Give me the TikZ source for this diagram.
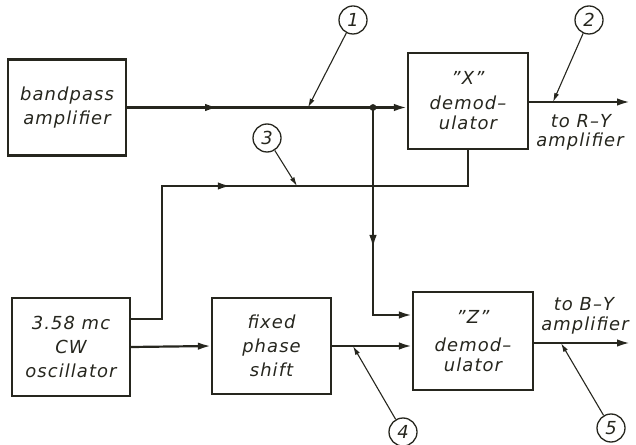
\documentclass[tikz,border=0pt]{standalone}
\usepackage{fontspec}
\setsansfont{DejaVu Sans}[LetterSpace=6]
\usetikzlibrary{arrows.meta,decorations.markings}
\newcommand\dgfont{\sffamily\itshape\fontsize{18}{24}\selectfont}
\definecolor{ink}{RGB}{38,38,30}
\begin{document}
\begin{tikzpicture}[x=1bp,y=-1bp,
  blk/.style={draw=ink, text=ink, line width=2.2bp, minimum width=118bp, minimum height=96bp, align=center, inner sep=0pt, font=\dgfont},
  wire/.style={draw=ink, line width=2.2bp},
  tip/.style={-{Latex[length=13bp,width=7.5bp]}},
  midarrow/.style={postaction={decorate}, decoration={markings, mark=at position #1 with {\arrow[ink]{Latex[length=13bp,width=7.5bp]}}}},
  num/.style={draw=ink, text=ink, circle, minimum size=28bp, inner sep=0pt, line width=1.3bp, font=\dgfont},
  leader/.style={draw=ink, line width=1.1bp, -{Latex[length=9bp,width=5bp]}},
  lbl/.style={text=ink, align=center, font=\dgfont, inner sep=0pt}
]
\useasboundingbox (0,0) rectangle (636,445);
% blocks
\node[blk] (bp)  at (67,107.5) {bandpass\\amplifier};
\node[blk, minimum width=120bp] (xd) at (468,101) {"X"\\[1bp]demod–\\[-4bp]ulator};
\node[blk, minimum height=98bp] (osc) at (71,347) {3.58 mc\\CW\\oscillator};
\node[blk, minimum width=119bp] (fps) at (271.5,346) {fixed\\phase\\shift};
\node[blk, minimum width=120bp, minimum height=98bp] (zd) at (473,341) {"Z"\\[4bp]demod–\\[-4bp]ulator};
% coordinates
\coordinate (j) at (373,107.5);
\coordinate (t3) at (162,186);
\coordinate (b3) at (162,319);
\coordinate (r3) at (468,186);
\coordinate (v1) at (373,315);
\coordinate (xo) at (630,102);
\coordinate (zo) at (630,343);
% wires
\draw[wire, midarrow=0.37] (bp.east) -- (j);
\draw[wire, tip] (j) -- (xd.west |- j);
\fill[ink] (j) circle (3.4bp);
\draw[wire, midarrow=0.46] (osc.east |- b3) -- (b3) -- (t3) -- (r3) -- (xd.south);
\draw[wire, tip, midarrow=0.57] (j) -- (v1) -- (zd.west |- v1);
\draw[wire, tip] (osc.east) -- (fps.west);
\draw[wire, tip] (fps.east) -- (zd.west |- fps.east);
\draw[wire, tip] (xd.east |- xo) -- (xo);
\draw[wire, tip] (zd.east |- zo) -- (zo);
% output labels
\node[lbl] (lr) at (581,121) {to R–Y};
\node[lbl] (la) at (580,142) {amplifier};
\node[lbl] (lb) at (584,304) {to B–Y};
\node[lbl] (lc) at (585,326) {amplifier};
% numbered callouts
\node[num] (c1) at (353,20) {1};
\node[num] (c2) at (589,20) {2};
\node[num] (c3) at (267,138) {3};
\node[num] (c4) at (403,432) {4};
\node[num] (c5) at (611,428) {5};
\coordinate (p1) at (308,107.5);
\coordinate (p2) at (553,102);
\coordinate (p3) at (297,186);
\coordinate (p4) at (353,346);
\coordinate (p5) at (561,343);
\draw[leader] (c1) -- (p1);
\draw[leader] (c2) -- (p2);
\draw[leader] (c3) -- (p3);
\draw[leader] (c4) -- (p4);
\draw[leader] (c5) -- (p5);
\end{tikzpicture}
\end{document}
